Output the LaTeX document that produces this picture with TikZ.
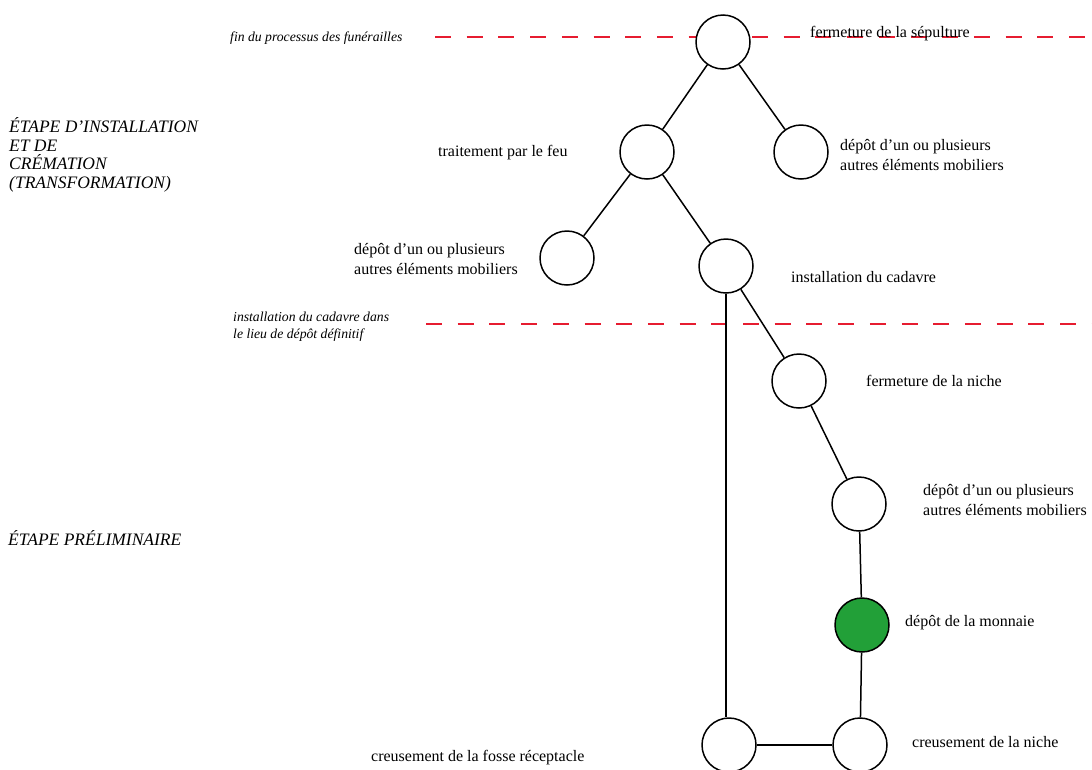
\documentclass[tikz,border=0pt]{standalone}
\usepackage{fontspec}
\setmainfont{Liberation Serif}
\definecolor{dashred}{RGB}{230,28,48}
\definecolor{coingreen}{RGB}{34,160,56}
\begin{document}
\begin{tikzpicture}[x=1pt,y=-1pt,
  stage/.style={circle,draw=black,line width=1.5pt,minimum size=54pt,inner sep=0pt},
  link/.style={line width=1.5pt,black},
  limit/.style={draw=dashred,line width=2.6pt,dash pattern=on 16pt off 15.7pt},
  lbl/.style={font=\fontsize{16}{19.5}\selectfont,inner sep=0pt,anchor=west,align=left},
  ilbl/.style={lbl,font=\fontsize{13.7}{17}\selectfont\itshape},
  head/.style={lbl,font=\fontsize{17.5}{18.5}\selectfont\itshape}]
\useasboundingbox (0,0) rectangle (1092,769);
\clip (0,0) rectangle (1092,769);
% dashed limits
\coordinate (l1a) at (435,37); \coordinate (l1b) at (1100,37);
\coordinate (l2a) at (426,324); \coordinate (l2b) at (1100,324);
\draw[limit] (l1a) -- (l1b);
\draw[limit] (l2a) -- (l2b);
% nodes
\node[stage,fill=white] (top) at (723,42) {};
\node[stage] (feu) at (647,152) {};
\node[stage] (mobR) at (801,152) {};
\node[stage] (mobL) at (567,258) {};
\node[stage] (inst) at (726,266) {};
\node[stage] (ferm) at (799,381) {};
\node[stage] (depot) at (859,504) {};
\node[stage,fill=coingreen] (monn) at (862,625) {};
\node[stage] (fosse) at (729,745) {};
\node[stage] (niche) at (860,745) {};
% connectors
\draw[link] (top) -- (feu);
\draw[link] (top) -- (mobR);
\draw[link] (feu) -- (mobL);
\draw[link] (feu) -- (inst);
\draw[link] (inst) -- (ferm);
\draw[link] (ferm) -- (depot);
\draw[link] (depot) -- (monn);
\draw[link] (monn) -- (niche);
\draw[link] (niche) -- (fosse);
\draw[link] (inst.south) -- (inst.south |- fosse.north);
% labels
\node[ilbl] (t1) at (230,38) {fin du processus des funérailles};
\node[lbl] (t2) at (810,34) {fermeture de la sépulture};
\node[head] (t3) at (9,155) {ÉTAPE D’INSTALLATION\\ET DE\\CRÉMATION\\(TRANSFORMATION)};
\node[lbl] (t4) at (438,153) {traitement par le feu};
\node[lbl] (t5) at (354,259) {dépôt d’un ou plusieurs\\autres éléments mobiliers};
\node[lbl] (t6) at (840,155) {dépôt d’un ou plusieurs\\autres éléments mobiliers};
\node[lbl] (t7) at (791,277) {installation du cadavre};
\node[ilbl] (t8) at (233,327) {installation du cadavre dans\\le lieu de dépôt définitif};
\node[lbl] (t9) at (866,381) {fermeture de la niche};
\node[lbl] (t10) at (923,500) {dépôt d’un ou plusieurs\\autres éléments mobiliers};
\node[head] (t11) at (8,538) {ÉTAPE PRÉLIMINAIRE};
\node[lbl] (t12) at (905,623) {dépôt de la monnaie};
\node[lbl] (t13) at (912,742) {creusement de la niche};
\node[lbl] (t14) at (371,758) {creusement de la fosse réceptacle};
\end{tikzpicture}
\end{document}
